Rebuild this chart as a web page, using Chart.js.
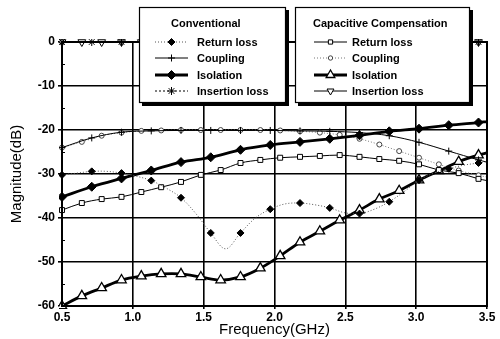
<!DOCTYPE html>
<html>
<head>
<meta charset="utf-8">
<script src="https://cdn.jsdelivr.net/npm/chart.js@4.4.1/dist/chart.umd.min.js"></script>
<style>
  html, body { margin: 0; padding: 0; background: #fff; }
  #wrap { width: 500px; height: 339px; position: relative; }
</style>
</head>
<body>
<div id="wrap"><canvas id="chart"></canvas></div>
<script>
// frequency grids (GHz)
const freqCap = [0.5, 0.64, 0.78, 0.92, 1.06, 1.2, 1.34, 1.48, 1.62, 1.76, 1.9, 2.04, 2.18, 2.32, 2.46, 2.6, 2.74, 2.88, 3.02, 3.16, 3.3, 3.44, 3.5];
const freqConv = [0.5, 0.71, 0.92, 1.13, 1.34, 1.55, 1.76, 1.97, 2.18, 2.39, 2.6, 2.81, 3.02, 3.23, 3.44, 3.5];
const freqConvRL = [0.5, 0.605, 0.71, 0.815, 0.92, 1.025, 1.13, 1.235, 1.34, 1.445, 1.55, 1.655, 1.76, 1.865, 1.97, 2.075, 2.18, 2.285, 2.39, 2.495, 2.6, 2.705, 2.81, 2.915, 3.02, 3.125, 3.23, 3.335, 3.44, 3.5];

// Conventional (dB)
const convReturnLoss = [-30.2, -29.8, -29.4, -29.4, -29.8, -30.5, -31.5, -33.2, -35.4, -39, -43.4, -47, -43.4, -40, -38, -36.8, -36.6, -37, -37.7, -38.8, -39, -38, -36.3, -34, -31.4, -29.8, -28.8, -28, -27.5, -27.2];
const convCoupling = [-24, -21.8, -20.5, -20.2, -20.1, -20.1, -20.1, -20.1, -20.2, -20.3, -20.6, -21.3, -22.8, -24.8, -26.8, -27.3];
const convIsolation = [-35.2, -32.9, -31, -29.2, -27.3, -26.2, -24.5, -23.4, -22.7, -22, -21.2, -20.3, -19.7, -18.9, -18.3, -18.1];
const convInsertion = [0, 0, 0, 0, 0, 0, 0, 0, 0, 0, 0, 0, 0, 0, 0, 0];

// Capacitive compensation (dB)
const capReturnLoss = [-38.2, -36.6, -35.7, -35.2, -34.1, -33, -31.8, -30.2, -29.1, -27.5, -26.8, -26.3, -26.1, -25.9, -25.7, -26.1, -26.6, -27, -27.8, -29.1, -29.8, -31.1, -31.5];
const capCoupling = [-24, -22.7, -21.3, -20.6, -20.2, -20.1, -20, -20, -20, -20, -20, -20.1, -20.3, -20.6, -21.1, -22, -23.3, -24.8, -26.3, -27.8, -29.2, -30.3, -30.7];
const capIsolation = [-60, -57.7, -55.9, -54.1, -53.2, -52.7, -52.7, -53.4, -54.1, -53.4, -51.4, -48.6, -45.5, -43, -40.5, -38.2, -35.7, -33.8, -31.4, -29.3, -27.2, -25.7, -25.2];
const capInsertion = [0, 0, 0, 0, 0, 0, 0, 0, 0, 0, 0, 0, 0, 0, 0, 0, 0, 0, 0, 0, 0, 0, 0];

const xTicks = [0.5, 1.0, 1.5, 2.0, 2.5, 3.0, 3.5];
const yTicks = [0, -10, -20, -30, -40, -50, -60];

const pts = (xs, ys) => xs.map((x, i) => ({ x, y: ys[i] }));
// no marker on the closing point at 3.5 GHz
const radius = (r, every) => (c) => {
  const n = c.dataset.data.length;
  if (c.dataIndex === n - 1) return 0;
  if (every && c.dataIndex % every !== 0) return 0;
  return r;
};

const FONT = 'Liberation Sans, Arial, sans-serif';

const datasets = [
  { group: 0, label: 'Return loss', data: pts(freqConvRL, convReturnLoss), borderColor: '#555', borderWidth: 1, borderDash: [1, 2],
    pointStyle: 'rectRot', pointRadius: radius(3.5, 2), lr: 3.5, pointBackgroundColor: '#000', pointBorderColor: '#000', pointBorderWidth: 1 },
  { group: 0, label: 'Coupling', data: pts(freqConv, convCoupling), borderColor: '#000', borderWidth: 1,
    pointStyle: 'cross', pointRadius: radius(3.5), lr: 3.5, pointBorderColor: '#000', pointBorderWidth: 1 },
  { group: 0, label: 'Isolation', data: pts(freqConv, convIsolation), borderColor: '#000', borderWidth: 2.8,
    pointStyle: 'rectRot', pointRadius: radius(4.5), lr: 4.5, pointBackgroundColor: '#000', pointBorderColor: '#000', pointBorderWidth: 1 },
  { group: 0, label: 'Insertion loss', data: pts(freqConv, convInsertion), borderColor: '#000', borderWidth: 1, borderDash: [2, 2],
    pointStyle: 'star', pointRadius: radius(4), lr: 4, pointBorderColor: '#000', pointBorderWidth: 1 },
  { group: 1, label: 'Return loss', data: pts(freqCap, capReturnLoss), borderColor: '#000', borderWidth: 1,
    pointStyle: 'rect', pointRadius: radius(3.5), lr: 3, pointBackgroundColor: '#fff', pointBorderColor: '#000', pointBorderWidth: 1 },
  { group: 1, label: 'Coupling', data: pts(freqCap, capCoupling), borderColor: '#777', borderWidth: 1, borderDash: [1, 2],
    pointStyle: 'circle', pointRadius: radius(2.5), lr: 2.2, pointBackgroundColor: '#fff', pointBorderColor: '#444', pointBorderWidth: 1 },
  { group: 1, label: 'Isolation', data: pts(freqCap, capIsolation), borderColor: '#000', borderWidth: 2.8,
    pointStyle: 'triangle', pointRadius: radius(5.5), lr: 5, pointBackgroundColor: '#fff', pointBorderColor: '#000', pointBorderWidth: 1.3 },
  { group: 1, label: 'Insertion loss', data: pts(freqCap, capInsertion), borderColor: '#000', borderWidth: 1,
    pointStyle: 'triangle', pointRotation: 180, pointRadius: radius(4.5), lr: 4, pointBackgroundColor: '#fff', pointBorderColor: '#000', pointBorderWidth: 1 }
];
datasets.forEach(d => { d.tension = 0.35; d.fill = false; d.clip = 3; });

// frame, minor ticks and the two boxed legends
const decor = {
  id: 'decor',
  afterDatasetsDraw(chart) {
    const { ctx, chartArea: a, scales: { y } } = chart;
    ctx.save();
    ctx.strokeStyle = '#000';
    ctx.lineWidth = 2;
    ctx.strokeRect(a.left, a.top, a.right - a.left, a.bottom - a.top);
    ctx.lineWidth = 1;
    for (let v = -5; v > -60; v -= 10) {
      const py = Math.round(y.getPixelForValue(v)) + 0.5;
      ctx.beginPath(); ctx.moveTo(a.left, py); ctx.lineTo(a.left + 3, py); ctx.stroke();
    }
    ctx.restore();
  },
  afterDraw(chart) {
    const { ctx } = chart;
    const boxes = [
      { x: 139, y: 7, w: 147, h: 96, title: 'Conventional', tx: 171, l0: 155, l1: 188, textX: 197 },
      { x: 295, y: 7, w: 175, h: 96, title: 'Capacitive Compensation', tx: 313, l0: 314, l1: 347, textX: 352 }
    ];
    const rows = [42, 58, 75, 91];
    boxes.forEach((b, g) => {
      ctx.save();
      ctx.fillStyle = '#000';
      ctx.fillRect(b.x + 3, b.y + 3, b.w, b.h);
      ctx.fillStyle = '#fff';
      ctx.fillRect(b.x, b.y, b.w, b.h);
      ctx.strokeStyle = '#000';
      ctx.lineWidth = 1.2;
      ctx.strokeRect(b.x + 0.5, b.y + 0.5, b.w - 1, b.h - 1);
      ctx.fillStyle = '#000';
      ctx.textBaseline = 'middle';
      ctx.font = 'bold 11px ' + FONT;
      ctx.fillText(b.title, b.tx, 24);
      chart.data.datasets.filter(d => d.group === g).forEach((d, i) => {
        const ry = rows[i];
        ctx.save();
        ctx.strokeStyle = d.borderColor;
        ctx.lineWidth = d.borderWidth;
        ctx.setLineDash(d.borderDash || []);
        ctx.beginPath(); ctx.moveTo(b.l0, ry); ctx.lineTo(b.l1, ry); ctx.stroke();
        ctx.restore();
        ctx.save();
        ctx.fillStyle = d.pointBackgroundColor || '#fff';
        ctx.strokeStyle = d.pointBorderColor;
        ctx.lineWidth = d.pointBorderWidth;
        Chart.helpers.drawPoint(ctx, { pointStyle: d.pointStyle, radius: d.lr, rotation: d.pointRotation || 0, borderWidth: d.pointBorderWidth }, (b.l0 + b.l1) / 2, ry);
        ctx.restore();
        ctx.fillStyle = '#000';
        ctx.font = 'bold 11px ' + FONT;
        ctx.fillText(d.label, b.textX, ry + 0.5);
      });
      ctx.restore();
    });
  }
};

new Chart(document.getElementById('chart'), {
  type: 'line',
  data: { datasets },
  options: {
    responsive: true,
    maintainAspectRatio: false,
    animation: false,
    layout: { padding: { left: 0, right: 13, top: 42, bottom: 0 } },
    plugins: { legend: { display: false }, tooltip: { enabled: false } },
    scales: {
      x: {
        type: 'linear', min: 0.5, max: 3.5,
        afterBuildTicks: (s) => { s.ticks = xTicks.map(v => ({ value: v })); },
        afterFit: (s) => { s.height = 33; },
        grid: { color: '#000', lineWidth: 1.6, tickLength: 3, drawTicks: true },
        border: { color: '#000', width: 2 },
        ticks: { color: '#000', padding: 1, font: { family: FONT, size: 12, weight: 'bold' }, maxRotation: 0,
          callback: (v) => v.toFixed(1) },
        title: { display: true, text: 'Frequency(GHz)', color: '#000', padding: { top: 0, bottom: 0 }, font: { family: FONT, size: 15 } }
      },
      y: {
        type: 'linear', min: -60, max: 0,
        afterBuildTicks: (s) => { s.ticks = yTicks.map(v => ({ value: v })); },
        afterFit: (s) => { s.width = 62; },
        grid: { color: '#000', lineWidth: 1.6, tickLength: 4 },
        border: { color: '#000', width: 2 },
        ticks: { color: '#000', padding: 3, font: { family: FONT, size: 12, weight: 'bold' } },
        title: { display: true, text: 'Magnitude(dB)', color: '#000', padding: { top: 8, bottom: 0 }, font: { family: FONT, size: 15 } }
      }
    }
  },
  plugins: [decor]
});
</script>
</body>
</html>
